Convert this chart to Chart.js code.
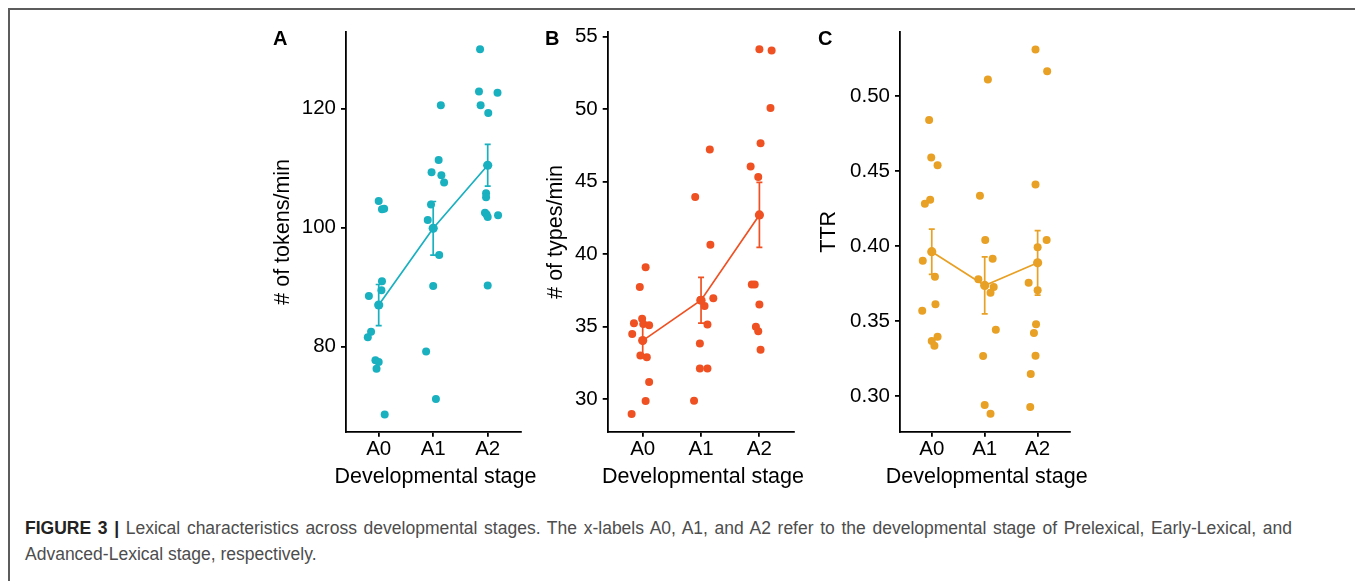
<!DOCTYPE html>
<html><head><meta charset="utf-8">
<script src="https://cdn.jsdelivr.net/npm/chart.js@4"></script>
<style>
html,body{margin:0;padding:0;background:#fff;}
body{width:1355px;height:581px;position:relative;overflow:hidden;font-family:"Liberation Sans",Arial,sans-serif;}
.frame{position:absolute;left:8px;top:8px;width:1400px;height:700px;border-top:2px solid #5c5c5c;border-left:2px solid #5c5c5c;}
canvas{position:absolute;}
.lab{position:absolute;font-weight:bold;font-size:20px;line-height:1;color:#000;}
.xt{position:absolute;width:300px;text-align:center;font-size:21.5px;line-height:1;color:#000;top:466.3px;white-space:nowrap;}
.cap{position:absolute;left:25px;font-size:17.5px;line-height:1;color:#4d4d4d;white-space:nowrap;}
.cap1{top:520.2px;width:1267px;text-align:justify;text-align-last:justify;}
.cap2{top:546.2px;}
.cap b{color:#222;}
</style></head><body>
<div class="frame"></div>
<canvas id="cA" width="255" height="470" style="left:270px;top:20px;"></canvas>
<canvas id="cB" width="256" height="470" style="left:543px;top:20px;"></canvas>
<canvas id="cC" width="258" height="470" style="left:816px;top:20px;"></canvas>
<div class="lab" style="left:273px;top:28px;">A</div>
<div class="lab" style="left:545px;top:28px;">B</div>
<div class="lab" style="left:818px;top:28px;">C</div>
<div class="xt" style="left:285.5px;">Developmental stage</div>
<div class="xt" style="left:553px;">Developmental stage</div>
<div class="xt" style="left:836.7px;">Developmental stage</div>
<div class="cap cap1"><b>FIGURE 3 |</b> Lexical characteristics across developmental stages. The x-labels A0, A1, and A2 refer to the developmental stage of Prelexical, Early-Lexical, and</div>
<div class="cap cap2">Advanced-Lexical stage, respectively.</div>
<script>
// categories
const stages = ['A0', 'A1', 'A2'];

// Panel A: tokens per minute (one inner array per stage)
const tokensByStage = [
  [104.5, 103.1, 103.2, 91.0, 89.5, 88.5, 82.5, 81.6, 77.7, 77.4, 76.3, 68.6],
  [120.6, 111.4, 109.3, 108.8, 107.6, 103.9, 101.3, 95.4, 90.2, 79.2, 71.2],
  [130.0, 122.9, 122.7, 120.6, 119.3, 105.8, 105.1, 102.5, 102.2, 101.8, 102.1, 90.3]
];
const tokensJitter = [
  [0.00, 0.06, 0.10, 0.06, 0.05, -0.18, -0.14, -0.20, -0.06, 0.00, -0.04, 0.11],
  [0.14, 0.10, -0.03, 0.15, 0.20, -0.04, -0.10, 0.11, 0.00, -0.13, 0.05],
  [-0.14, -0.16, 0.18, -0.13, 0.01, -0.03, -0.03, -0.05, -0.02, 0.00, 0.19, 0.00]
];
const tokensMean = [87.0, 99.9, 110.5];
const tokensSE = [3.45, 4.5, 3.5];
const tokensTicks = [80, 100, 120];
const tokensTickLabels = ['80', '100', '120'];

// Panel B: types per minute
const typesByStage = [
  [39.1, 37.75, 35.55, 35.25, 35.2, 35.1, 34.5, 33.02, 32.9, 31.2, 29.88, 28.99],
  [47.22, 43.94, 40.65, 36.97, 36.85, 36.44, 35.16, 33.85, 32.13, 32.13, 29.9],
  [54.13, 54.04, 50.09, 47.66, 46.05, 45.32, 37.91, 37.91, 36.54, 35.0, 34.7, 33.42]
];
const typesJitter = [
  [0.05, -0.05, -0.01, -0.15, 0.01, 0.11, -0.18, -0.04, 0.07, 0.11, 0.05, -0.19],
  [0.15, -0.10, 0.16, 0.21, -0.01, 0.06, 0.11, -0.02, -0.02, 0.11, -0.12],
  [0.00, 0.21, 0.19, 0.02, -0.15, -0.02, -0.13, -0.08, 0.00, -0.06, -0.02, 0.02]
];
const typesMean = [34.05, 36.83, 42.71];
const typesSE = [1.12, 1.58, 2.24];
const typesTicks = [30, 35, 40, 45, 50, 55];
const typesTickLabels = ['30', '35', '40', '45', '50', '55'];

// Panel C: type-token ratio
const ttrByStage = [
  [0.484, 0.4591, 0.4538, 0.4309, 0.4282, 0.3902, 0.3795, 0.3611, 0.3569, 0.3395, 0.3367, 0.3335],
  [0.5111, 0.4335, 0.404, 0.3915, 0.3778, 0.3727, 0.3689, 0.3442, 0.3267, 0.294, 0.2882],
  [0.5311, 0.5165, 0.4411, 0.404, 0.3991, 0.3755, 0.3705, 0.3478, 0.342, 0.3269, 0.3147, 0.2927]
];
const ttrJitter = [
  [-0.05, -0.01, 0.11, -0.03, -0.13, -0.17, 0.06, 0.07, -0.18, 0.11, 0.00, 0.05],
  [0.06, -0.09, 0.01, 0.15, -0.12, 0.17, 0.11, 0.21, -0.03, 0.00, 0.11],
  [-0.04, 0.18, -0.04, 0.17, 0.00, -0.17, 0.00, -0.03, -0.07, -0.04, -0.13, -0.14]
];
const ttrMean = [0.3962, 0.3737, 0.3888];
const ttrSE = [0.0151, 0.019, 0.0215];
const ttrTicks = [0.30, 0.35, 0.40, 0.45, 0.50];
const ttrTickLabels = ['0.30', '0.35', '0.40', '0.45', '0.50'];

const FONT = '"Liberation Sans", Arial, sans-serif';

function panel(id, o) {
  const pts = [];
  o.values.forEach((grp, g) => grp.forEach((v, k) => pts.push({x: g + o.jitter[g][k], y: v})));
  const meanPts = o.means.map((m, g) => ({x: g, y: m}));
  const errPlugin = {
    id: 'errbars',
    afterDatasetsDraw(chart) {
      const ctx = chart.ctx, xs = chart.scales.x, ys = chart.scales.y;
      ctx.save();
      ctx.strokeStyle = o.color;
      ctx.lineWidth = 1.7;
      o.means.forEach((m, g) => {
        const px = xs.getPixelForValue(g);
        const t = ys.getPixelForValue(m + o.se[g]);
        const b = ys.getPixelForValue(m - o.se[g]);
        ctx.beginPath();
        ctx.moveTo(px, t); ctx.lineTo(px, b);
        ctx.moveTo(px - 3, t); ctx.lineTo(px + 3, t);
        ctx.moveTo(px - 3, b); ctx.lineTo(px + 3, b);
        ctx.stroke();
      });
      ctx.restore();
    }
  };
  new Chart(document.getElementById(id), {
    type: 'scatter',
    data: {
      datasets: [
        {data: meanPts, showLine: true, borderColor: o.color, borderWidth: 1.7,
         pointRadius: 4.6, pointBackgroundColor: o.color, pointBorderWidth: 0, fill: false},
        {data: pts, pointRadius: 4, pointBackgroundColor: o.color, backgroundColor: o.color, pointBorderWidth: 0, borderWidth: 0}
      ]
    },
    options: {
      responsive: false, animation: false, devicePixelRatio: 1, events: [],
      layout: {padding: {top: 12, left: 0, right: o.padRight, bottom: 0}},
      plugins: {legend: {display: false}, tooltip: {enabled: false}},
      scales: {
        x: {
          type: 'linear', min: -0.6, max: 2.6,
          afterBuildTicks: s => { s.ticks = stages.map((c, i) => ({value: i})); },
          afterFit: s => { s.height = 58.3; s.paddingLeft = 0; s.paddingRight = 0; },
          ticks: {autoSkip: false, maxRotation: 0, padding: 0.5, color: '#000',
                  font: {family: FONT, size: 20.5}, callback: v => stages[Math.round(v)]},
          grid: {drawOnChartArea: false, drawTicks: true, tickLength: 5, color: '#000', lineWidth: 1.8},
          border: {display: true, color: '#000', width: 1.8},
          title: {display: false}
        },
        y: {
          type: 'linear', min: o.yMin, max: o.yMax,
          afterBuildTicks: s => { s.ticks = o.ticks.map(v => ({value: v})); },
          afterFit: s => { s.width = o.yWidth; s.paddingTop = 0; s.paddingBottom = 0; },
          ticks: {autoSkip: false, padding: 5, color: '#000', font: {family: FONT, size: 20.5},
                  callback: v => o.tickLabels[o.ticks.findIndex(t => Math.abs(t - v) < 1e-9)]},
          grid: {drawOnChartArea: false, drawTicks: true, tickLength: 5, color: '#000', lineWidth: 1.8},
          border: {display: true, color: '#000', width: 1.8},
          title: {display: true, text: o.title, color: '#000',
                  font: {family: FONT, size: 21.5}, padding: {top: 0, bottom: 0}}
        }
      }
    },
    plugins: [errPlugin]
  });
}

panel('cA', {values: tokensByStage, jitter: tokensJitter, means: tokensMean, se: tokensSE,
  color: '#19B0C0', yMin: 65.7, yMax: 132.9, ticks: tokensTicks, tickLabels: tokensTickLabels,
  title: '# of tokens/min', yWidth: 76, padRight: 0});
panel('cB', {values: typesByStage, jitter: typesJitter, means: typesMean, se: typesSE,
  color: '#EF5123', yMin: 27.77, yMax: 55.32, ticks: typesTicks, tickLabels: typesTickLabels,
  title: '# of types/min', yWidth: 64.7, padRight: 0.7});
panel('cC', {values: ttrByStage, jitter: ttrJitter, means: ttrMean, se: ttrSE,
  color: '#E8A025', yMin: 0.2762, yMax: 0.5427, ticks: ttrTicks, tickLabels: ttrTickLabels,
  title: 'TTR', yWidth: 84, padRight: 0.7});
</script>
</body></html>
